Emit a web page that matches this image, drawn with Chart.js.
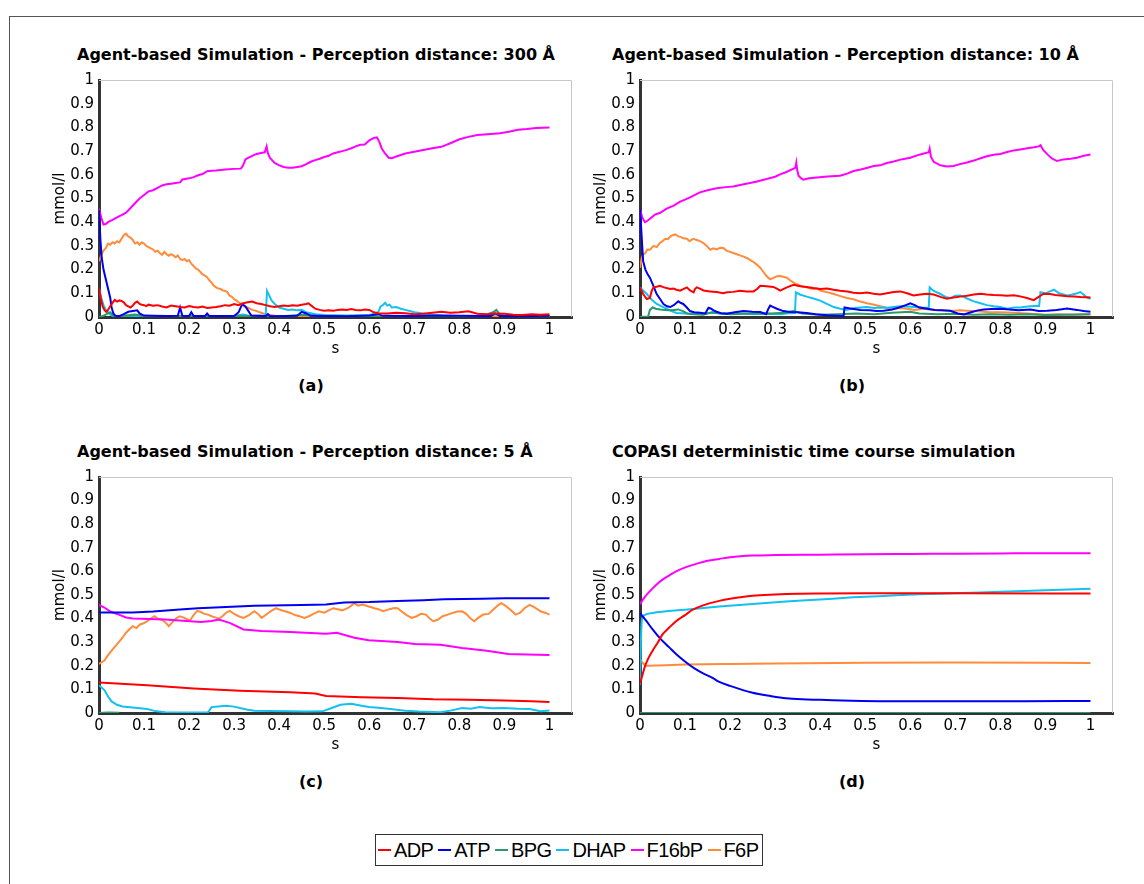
<!DOCTYPE html>
<html lang="en">
<head>
<meta charset="UTF-8" />
<title>Glycolysis: agent-based vs COPASI</title>
<script src="https://cdn.jsdelivr.net/npm/chart.js"></script>
<style>
  body { margin:0; width:1144px; height:884px; overflow:hidden; background:#fff; position:relative; font-family:"DejaVu Sans", sans-serif; color:#000; }
  .frame { position:absolute; left:9px; top:16px; width:1200px; height:900px; border:1px solid #555; }
  canvas { position:absolute; }
  .ttl { position:absolute; font:bold 16px/19px "DejaVu Sans", sans-serif; white-space:nowrap; }
  .sub { position:absolute; font:bold 16px/19px "DejaVu Sans", sans-serif; width:60px; text-align:center; }
  #legend { position:absolute; left:375px; top:834px; height:30px; border:1px solid #333; display:flex; align-items:center; padding:0 4px 0 2px; font:20px "Liberation Sans", Arial, sans-serif; letter-spacing:-0.6px; }
  .item { display:flex; align-items:center; margin-right:5px; }
  .item:last-child { margin-right:0; }
  .item i { display:inline-block; width:13px; height:2px; margin-right:3px; }
</style>
</head>
<body>
<div class="frame"></div>

<div class="ttl" style="left:77px; top:45px;">Agent-based Simulation - Perception distance: 300 Å</div>
<div class="ttl" style="left:612px; top:45px;">Agent-based Simulation - Perception distance: 10 Å</div>
<div class="ttl" style="left:77px; top:442px;">Agent-based Simulation - Perception distance: 5 Å</div>
<div class="ttl" style="left:612px; top:442px;">COPASI deterministic time course simulation</div>

<canvas id="chartA" width="540" height="292" style="left:40px; top:66px;"></canvas>
<canvas id="chartB" width="540" height="292" style="left:581px; top:66px;"></canvas>
<canvas id="chartC" width="540" height="291" style="left:40px; top:463px;"></canvas>
<canvas id="chartD" width="540" height="291" style="left:581px; top:463px;"></canvas>

<div class="sub" style="left:281px; top:376px;">(a)</div>
<div class="sub" style="left:822px; top:376px;">(b)</div>
<div class="sub" style="left:281px; top:772px;">(c)</div>
<div class="sub" style="left:822px; top:772px;">(d)</div>

<div id="legend"></div>

<script>
  // axis ticks
  const xTicks = [0, 0.1, 0.2, 0.3, 0.4, 0.5, 0.6, 0.7, 0.8, 0.9, 1];
  const yTicks = [0, 0.1, 0.2, 0.3, 0.4, 0.5, 0.6, 0.7, 0.8, 0.9, 1];

  const species = ['ADP', 'ATP', 'BPG', 'DHAP', 'F16bP', 'F6P'];
  const colors = ['#ff0000', '#0000ee', '#2a9a6c', '#14c0f0', '#ff00ff', '#ff8c3c'];

  // (a) perception distance 300 A  -- [s, mmol/l]
  const adpA = [[0,0.125],[0.004,0.08],[0.008,0.045],[0.012,0.03],[0.016,0.022],[0.02,0.03],[0.025,0.045],[0.03,0.06],[0.035,0.072],[0.04,0.065],[0.045,0.07],[0.05,0.068],[0.055,0.062],[0.06,0.05],[0.065,0.045],[0.07,0.04],[0.075,0.048],[0.08,0.06],[0.085,0.065],[0.09,0.055],[0.095,0.052],[0.1,0.05],[0.105,0.046],[0.11,0.052],[0.12,0.048],[0.13,0.05],[0.14,0.044],[0.15,0.04],[0.16,0.048],[0.17,0.045],[0.18,0.042],[0.19,0.04],[0.2,0.046],[0.21,0.042],[0.22,0.04],[0.23,0.044],[0.24,0.038],[0.25,0.04],[0.26,0.042],[0.27,0.045],[0.28,0.05],[0.29,0.048],[0.3,0.055],[0.31,0.05],[0.32,0.058],[0.33,0.062],[0.34,0.065],[0.35,0.058],[0.36,0.055],[0.37,0.05],[0.38,0.045],[0.39,0.042],[0.4,0.045],[0.41,0.048],[0.42,0.046],[0.43,0.05],[0.44,0.048],[0.45,0.052],[0.46,0.055],[0.465,0.058],[0.47,0.05],[0.48,0.035],[0.49,0.03],[0.5,0.026],[0.51,0.028],[0.52,0.026],[0.53,0.03],[0.54,0.032],[0.55,0.03],[0.56,0.034],[0.57,0.03],[0.58,0.028],[0.59,0.032],[0.6,0.03],[0.61,0.02],[0.62,0.016],[0.64,0.015],[0.66,0.018],[0.68,0.016],[0.7,0.012],[0.72,0.014],[0.74,0.018],[0.76,0.022],[0.78,0.018],[0.8,0.02],[0.82,0.024],[0.84,0.014],[0.86,0.012],[0.88,0.015],[0.9,0.014],[0.92,0.01],[0.94,0.008],[0.96,0.012],[0.98,0.01],[1,0.012]];
  const atpA = [[0,0.45],[0.003,0.33],[0.006,0.25],[0.01,0.2],[0.015,0.16],[0.02,0.12],[0.025,0.08],[0.028,0.04],[0.032,0.015],[0.036,0.005],[0.045,0.004],[0.055,0.012],[0.065,0.022],[0.075,0.025],[0.085,0.028],[0.09,0.015],[0.1,0.006],[0.12,0.005],[0.15,0.004],[0.175,0.005],[0.18,0.04],[0.185,0.005],[0.2,0.004],[0.205,0.02],[0.21,0.004],[0.235,0.004],[0.24,0.015],[0.245,0.004],[0.3,0.004],[0.31,0.02],[0.318,0.055],[0.325,0.045],[0.33,0.03],[0.338,0.006],[0.37,0.004],[0.375,0.012],[0.38,0.003],[0.44,0.005],[0.45,0.022],[0.46,0.015],[0.47,0.005],[0.55,0.003],[0.6,0.006],[0.62,0.012],[0.63,0.005],[0.7,0.004],[0.75,0.006],[0.8,0.005],[0.87,0.004],[0.88,0.015],[0.89,0.004],[0.95,0.004],[1,0.005]];
  const bpgA = [[0,0],[0.01,0.005],[0.02,0.015],[0.025,0.02],[0.03,0.01],[0.04,0.003],[0.08,0.01],[0.1,0.003],[0.3,0.004],[0.4,0.002],[0.45,0.01],[0.5,0.002],[0.85,0.003],[0.875,0.02],[0.882,0.03],[0.89,0.01],[0.9,0.002],[1,0.002]];
  const dhapA = [[0,0.12],[0.005,0.08],[0.01,0.05],[0.015,0.03],[0.02,0.02],[0.025,0.01],[0.03,0.005],[0.1,0.004],[0.2,0.004],[0.3,0.005],[0.32,0.01],[0.33,0.006],[0.37,0.005],[0.373,0.11],[0.378,0.09],[0.383,0.07],[0.39,0.055],[0.4,0.04],[0.41,0.035],[0.42,0.03],[0.43,0.032],[0.44,0.028],[0.45,0.03],[0.46,0.02],[0.48,0.012],[0.5,0.008],[0.55,0.006],[0.6,0.008],[0.62,0.02],[0.625,0.045],[0.63,0.05],[0.635,0.06],[0.64,0.048],[0.645,0.052],[0.65,0.04],[0.66,0.042],[0.67,0.035],[0.68,0.03],[0.69,0.025],[0.7,0.02],[0.72,0.015],[0.74,0.01],[0.76,0.006],[0.8,0.004],[0.85,0.005],[0.88,0.012],[0.9,0.005],[1,0.004]];
  const f16A = [[0,0.457],[0.005,0.42],[0.01,0.39],[0.015,0.392],[0.02,0.4],[0.03,0.41],[0.04,0.42],[0.05,0.43],[0.06,0.44],[0.07,0.46],[0.08,0.48],[0.09,0.5],[0.1,0.515],[0.11,0.53],[0.12,0.535],[0.13,0.545],[0.14,0.555],[0.15,0.56],[0.16,0.562],[0.17,0.565],[0.18,0.568],[0.185,0.58],[0.2,0.585],[0.21,0.59],[0.22,0.598],[0.23,0.603],[0.24,0.615],[0.25,0.617],[0.26,0.618],[0.28,0.622],[0.3,0.625],[0.315,0.626],[0.32,0.64],[0.325,0.665],[0.33,0.67],[0.34,0.68],[0.35,0.688],[0.36,0.692],[0.368,0.695],[0.372,0.72],[0.375,0.69],[0.38,0.67],[0.39,0.65],[0.4,0.64],[0.41,0.633],[0.42,0.63],[0.43,0.63],[0.44,0.633],[0.45,0.636],[0.46,0.645],[0.47,0.655],[0.48,0.662],[0.49,0.668],[0.5,0.675],[0.51,0.68],[0.52,0.69],[0.53,0.695],[0.54,0.7],[0.55,0.705],[0.56,0.712],[0.57,0.72],[0.58,0.727],[0.59,0.728],[0.6,0.745],[0.61,0.755],[0.617,0.758],[0.622,0.74],[0.628,0.71],[0.635,0.69],[0.643,0.672],[0.65,0.67],[0.66,0.677],[0.68,0.69],[0.7,0.697],[0.72,0.705],[0.74,0.712],[0.76,0.718],[0.78,0.733],[0.8,0.75],[0.82,0.76],[0.84,0.768],[0.87,0.772],[0.89,0.775],[0.91,0.782],[0.93,0.79],[0.95,0.793],[0.97,0.797],[1,0.8]];
  const f6pA = [[0,0.235],[0.005,0.26],[0.01,0.28],[0.015,0.29],[0.02,0.31],[0.025,0.305],[0.03,0.315],[0.035,0.31],[0.04,0.32],[0.045,0.315],[0.05,0.33],[0.055,0.345],[0.06,0.352],[0.065,0.34],[0.07,0.335],[0.075,0.325],[0.08,0.31],[0.085,0.315],[0.09,0.305],[0.095,0.315],[0.1,0.31],[0.105,0.3],[0.11,0.295],[0.115,0.29],[0.12,0.285],[0.125,0.275],[0.13,0.28],[0.135,0.27],[0.14,0.262],[0.145,0.275],[0.15,0.265],[0.155,0.258],[0.16,0.265],[0.165,0.26],[0.17,0.252],[0.175,0.26],[0.18,0.245],[0.185,0.24],[0.19,0.245],[0.195,0.235],[0.2,0.24],[0.205,0.225],[0.21,0.215],[0.215,0.205],[0.22,0.2],[0.225,0.19],[0.23,0.18],[0.235,0.175],[0.24,0.168],[0.245,0.155],[0.25,0.145],[0.255,0.132],[0.26,0.125],[0.265,0.12],[0.27,0.118],[0.275,0.112],[0.28,0.11],[0.285,0.105],[0.29,0.09],[0.295,0.085],[0.3,0.075],[0.305,0.07],[0.31,0.062],[0.315,0.055],[0.32,0.048],[0.325,0.042],[0.33,0.04],[0.335,0.035],[0.34,0.03],[0.345,0.028],[0.35,0.025],[0.36,0.018],[0.37,0.012],[0.38,0.008],[0.39,0.005],[0.4,0.003],[0.45,0.002],[0.5,0.002],[0.6,0.001],[0.7,0.001],[0.8,0.001],[0.9,0.001],[1,0.001]];

  // (b) perception distance 10 A
  const adpB = [[0,0.125],[0.007,0.097],[0.015,0.076],[0.022,0.08],[0.026,0.11],[0.03,0.125],[0.037,0.128],[0.044,0.132],[0.052,0.126],[0.059,0.122],[0.067,0.118],[0.074,0.12],[0.081,0.115],[0.089,0.111],[0.096,0.118],[0.104,0.125],[0.111,0.112],[0.119,0.104],[0.122,0.118],[0.126,0.125],[0.133,0.12],[0.141,0.112],[0.148,0.11],[0.156,0.108],[0.17,0.105],[0.185,0.1],[0.193,0.104],[0.207,0.106],[0.222,0.111],[0.237,0.108],[0.252,0.108],[0.26,0.118],[0.267,0.132],[0.281,0.13],[0.296,0.127],[0.304,0.12],[0.311,0.111],[0.326,0.125],[0.341,0.136],[0.356,0.13],[0.37,0.127],[0.385,0.122],[0.4,0.118],[0.415,0.12],[0.43,0.115],[0.444,0.111],[0.46,0.108],[0.474,0.102],[0.489,0.1],[0.504,0.103],[0.519,0.098],[0.533,0.095],[0.548,0.1],[0.563,0.105],[0.578,0.108],[0.593,0.1],[0.607,0.091],[0.622,0.095],[0.637,0.098],[0.652,0.095],[0.667,0.085],[0.681,0.077],[0.696,0.082],[0.711,0.086],[0.726,0.09],[0.741,0.095],[0.756,0.098],[0.77,0.095],[0.785,0.093],[0.8,0.092],[0.815,0.09],[0.83,0.092],[0.844,0.087],[0.859,0.08],[0.874,0.071],[0.885,0.085],[0.896,0.098],[0.91,0.097],[0.922,0.093],[0.933,0.091],[0.948,0.088],[0.963,0.086],[0.978,0.084],[1,0.082]];
  const atpB = [[0,0.457],[0.004,0.33],[0.007,0.235],[0.012,0.2],[0.017,0.18],[0.022,0.166],[0.03,0.13],[0.037,0.097],[0.045,0.075],[0.052,0.055],[0.06,0.045],[0.067,0.042],[0.075,0.05],[0.085,0.066],[0.09,0.06],[0.096,0.055],[0.104,0.04],[0.111,0.025],[0.12,0.02],[0.133,0.018],[0.145,0.015],[0.152,0.039],[0.158,0.035],[0.163,0.028],[0.17,0.022],[0.18,0.016],[0.193,0.014],[0.21,0.02],[0.23,0.025],[0.25,0.022],[0.267,0.021],[0.28,0.012],[0.285,0.035],[0.289,0.048],[0.296,0.042],[0.304,0.035],[0.318,0.025],[0.333,0.021],[0.35,0.02],[0.37,0.017],[0.39,0.012],[0.415,0.007],[0.44,0.005],[0.452,0.003],[0.454,0.04],[0.46,0.038],[0.47,0.035],[0.489,0.03],[0.51,0.028],[0.525,0.025],[0.541,0.026],[0.56,0.032],[0.575,0.04],[0.59,0.05],[0.6,0.058],[0.61,0.05],[0.62,0.04],[0.637,0.035],[0.655,0.03],[0.67,0.028],[0.689,0.026],[0.705,0.015],[0.719,0.011],[0.735,0.02],[0.75,0.028],[0.763,0.032],[0.78,0.034],[0.8,0.035],[0.82,0.032],[0.84,0.028],[0.867,0.032],[0.885,0.025],[0.904,0.026],[0.925,0.03],[0.948,0.036],[0.97,0.03],[0.985,0.025],[1,0.022]];
  const bpgB = [[0,0],[0.018,0.002],[0.022,0.03],[0.028,0.04],[0.035,0.035],[0.045,0.032],[0.055,0.03],[0.065,0.028],[0.075,0.03],[0.085,0.032],[0.095,0.025],[0.105,0.015],[0.12,0.012],[0.14,0.01],[0.16,0.02],[0.18,0.015],[0.2,0.012],[0.23,0.014],[0.26,0.016],[0.29,0.015],[0.32,0.018],[0.34,0.025],[0.36,0.015],[0.4,0.01],[0.44,0.012],[0.48,0.015],[0.52,0.012],[0.56,0.018],[0.6,0.022],[0.62,0.015],[0.66,0.012],[0.7,0.014],[0.74,0.01],[0.78,0.012],[0.82,0.01],[0.86,0.012],[0.9,0.008],[0.94,0.01],[1,0.012]];
  const dhapB = [[0,0.125],[0.008,0.11],[0.015,0.097],[0.025,0.075],[0.037,0.055],[0.048,0.045],[0.059,0.035],[0.07,0.025],[0.081,0.017],[0.1,0.015],[0.133,0.014],[0.16,0.018],[0.18,0.015],[0.207,0.017],[0.24,0.013],[0.28,0.014],[0.31,0.012],[0.33,0.016],[0.344,0.017],[0.346,0.104],[0.355,0.095],[0.37,0.086],[0.385,0.078],[0.4,0.069],[0.415,0.055],[0.43,0.042],[0.445,0.035],[0.459,0.03],[0.475,0.038],[0.49,0.04],[0.504,0.042],[0.52,0.038],[0.533,0.04],[0.548,0.039],[0.563,0.042],[0.578,0.045],[0.593,0.044],[0.61,0.042],[0.625,0.04],[0.641,0.039],[0.643,0.125],[0.652,0.11],[0.667,0.097],[0.678,0.085],[0.689,0.08],[0.7,0.09],[0.711,0.091],[0.726,0.078],[0.741,0.066],[0.756,0.058],[0.77,0.05],[0.785,0.045],[0.8,0.042],[0.815,0.035],[0.83,0.04],[0.844,0.04],[0.86,0.044],[0.875,0.046],[0.886,0.046],[0.889,0.105],[0.9,0.1],[0.91,0.108],[0.919,0.115],[0.93,0.1],[0.94,0.095],[0.948,0.091],[0.96,0.095],[0.97,0.1],[0.978,0.105],[0.99,0.085],[1,0.077]];
  const f16B = [[0,0.457],[0.005,0.42],[0.011,0.4],[0.016,0.405],[0.022,0.415],[0.033,0.432],[0.045,0.44],[0.059,0.457],[0.075,0.47],[0.089,0.487],[0.1,0.495],[0.111,0.505],[0.122,0.515],[0.133,0.526],[0.15,0.535],[0.17,0.543],[0.19,0.548],[0.207,0.551],[0.225,0.558],[0.244,0.565],[0.26,0.572],[0.281,0.582],[0.3,0.592],[0.311,0.602],[0.325,0.612],[0.341,0.626],[0.345,0.63],[0.347,0.651],[0.349,0.62],[0.352,0.596],[0.358,0.585],[0.363,0.579],[0.375,0.585],[0.393,0.589],[0.41,0.592],[0.425,0.594],[0.444,0.596],[0.46,0.605],[0.474,0.616],[0.49,0.622],[0.505,0.63],[0.519,0.637],[0.533,0.64],[0.548,0.65],[0.563,0.656],[0.58,0.665],[0.6,0.672],[0.62,0.685],[0.641,0.695],[0.643,0.71],[0.646,0.675],[0.652,0.655],[0.667,0.64],[0.681,0.635],[0.696,0.637],[0.71,0.645],[0.726,0.652],[0.741,0.66],[0.756,0.67],[0.77,0.678],[0.785,0.685],[0.8,0.688],[0.815,0.696],[0.83,0.703],[0.844,0.707],[0.86,0.712],[0.875,0.716],[0.885,0.72],[0.889,0.725],[0.895,0.705],[0.905,0.685],[0.915,0.668],[0.926,0.658],[0.94,0.665],[0.956,0.668],[0.97,0.672],[0.985,0.68],[1,0.686]];
  const f6pB = [[0,0.208],[0.004,0.25],[0.007,0.263],[0.012,0.27],[0.016,0.285],[0.022,0.284],[0.03,0.3],[0.037,0.295],[0.044,0.312],[0.05,0.32],[0.056,0.33],[0.062,0.328],[0.067,0.339],[0.073,0.345],[0.078,0.349],[0.085,0.34],[0.09,0.338],[0.096,0.332],[0.104,0.33],[0.11,0.32],[0.118,0.33],[0.126,0.325],[0.133,0.32],[0.141,0.312],[0.148,0.3],[0.156,0.284],[0.163,0.29],[0.17,0.285],[0.178,0.292],[0.185,0.291],[0.192,0.28],[0.2,0.275],[0.207,0.27],[0.215,0.265],[0.222,0.26],[0.23,0.255],[0.237,0.249],[0.245,0.24],[0.252,0.232],[0.26,0.22],[0.267,0.208],[0.274,0.19],[0.28,0.175],[0.285,0.165],[0.289,0.159],[0.296,0.165],[0.304,0.172],[0.311,0.173],[0.318,0.17],[0.326,0.166],[0.333,0.155],[0.341,0.145],[0.348,0.138],[0.356,0.132],[0.363,0.128],[0.37,0.125],[0.378,0.12],[0.385,0.118],[0.393,0.12],[0.4,0.112],[0.415,0.105],[0.43,0.097],[0.445,0.088],[0.459,0.08],[0.474,0.075],[0.489,0.065],[0.504,0.058],[0.52,0.052],[0.533,0.045],[0.548,0.039],[0.563,0.035],[0.578,0.038],[0.593,0.035],[0.61,0.03],[0.63,0.035],[0.652,0.03],[0.67,0.028],[0.69,0.025],[0.71,0.028],[0.726,0.026],[0.75,0.024],[0.775,0.02],[0.8,0.02],[0.83,0.018],[0.86,0.015],[0.9,0.01],[0.93,0.012],[0.96,0.01],[1,0.012]];

  // (c) perception distance 5 A
  const adpC = [[0,0.129],[0.107,0.118],[0.21,0.104],[0.313,0.094],[0.425,0.0875],[0.48,0.083],[0.504,0.072],[0.583,0.067],[0.663,0.064],[0.742,0.058],[0.821,0.056],[0.9,0.053],[0.96,0.05],[1,0.047]];
  const atpC = [[0,0.426],[0.075,0.426],[0.12,0.43],[0.187,0.44],[0.22,0.444],[0.345,0.454],[0.45,0.458],[0.504,0.46],[0.544,0.468],[0.6,0.47],[0.663,0.475],[0.72,0.478],[0.766,0.482],[0.85,0.484],[0.9,0.486],[1,0.486]];
  const bpgC = [[0,0],[0.02,0.002],[0.045,0.001]];
  const dhapC = [[0,0.118],[0.012,0.097],[0.02,0.07],[0.028,0.049],[0.04,0.035],[0.052,0.028],[0.08,0.022],[0.107,0.017],[0.125,0.008],[0.147,0.003],[0.2,0.002],[0.242,0.003],[0.25,0.025],[0.265,0.028],[0.282,0.031],[0.3,0.027],[0.313,0.021],[0.33,0.014],[0.345,0.01],[0.38,0.008],[0.425,0.007],[0.46,0.006],[0.496,0.007],[0.515,0.02],[0.536,0.035],[0.56,0.039],[0.58,0.032],[0.599,0.025],[0.62,0.022],[0.647,0.017],[0.68,0.01],[0.71,0.006],[0.758,0.003],[0.78,0.01],[0.806,0.021],[0.825,0.018],[0.845,0.025],[0.87,0.02],[0.9,0.021],[0.93,0.018],[0.956,0.017],[0.98,0.007],[1,0.011]];
  const f16C = [[0,0.458],[0.012,0.447],[0.025,0.43],[0.044,0.417],[0.06,0.405],[0.075,0.4],[0.147,0.396],[0.226,0.386],[0.25,0.39],[0.266,0.396],[0.29,0.382],[0.321,0.354],[0.361,0.347],[0.425,0.343],[0.504,0.336],[0.528,0.34],[0.567,0.319],[0.599,0.308],[0.663,0.301],[0.702,0.292],[0.758,0.289],[0.806,0.275],[0.861,0.264],[0.909,0.25],[0.95,0.248],[1,0.246]];
  const f6pC = [[0,0.208],[0.006,0.215],[0.012,0.222],[0.02,0.245],[0.028,0.264],[0.035,0.28],[0.044,0.3],[0.052,0.319],[0.06,0.34],[0.067,0.354],[0.075,0.368],[0.083,0.36],[0.091,0.375],[0.099,0.38],[0.107,0.389],[0.115,0.4],[0.123,0.41],[0.131,0.4],[0.139,0.396],[0.147,0.385],[0.155,0.368],[0.163,0.385],[0.171,0.4],[0.179,0.41],[0.187,0.405],[0.195,0.398],[0.202,0.392],[0.21,0.415],[0.218,0.433],[0.226,0.428],[0.234,0.42],[0.242,0.417],[0.25,0.41],[0.258,0.405],[0.266,0.4],[0.274,0.41],[0.282,0.425],[0.29,0.433],[0.3,0.42],[0.31,0.41],[0.321,0.403],[0.333,0.415],[0.345,0.431],[0.353,0.42],[0.361,0.403],[0.37,0.415],[0.38,0.43],[0.393,0.444],[0.405,0.435],[0.415,0.43],[0.425,0.424],[0.435,0.415],[0.445,0.41],[0.456,0.403],[0.466,0.41],[0.476,0.42],[0.488,0.431],[0.5,0.425],[0.51,0.435],[0.52,0.444],[0.53,0.44],[0.54,0.435],[0.552,0.444],[0.56,0.455],[0.567,0.465],[0.575,0.455],[0.585,0.46],[0.599,0.451],[0.61,0.445],[0.62,0.44],[0.631,0.431],[0.645,0.44],[0.655,0.445],[0.663,0.444],[0.672,0.43],[0.683,0.415],[0.694,0.403],[0.705,0.41],[0.715,0.42],[0.726,0.417],[0.734,0.4],[0.742,0.389],[0.752,0.395],[0.763,0.41],[0.774,0.417],[0.786,0.425],[0.796,0.43],[0.806,0.431],[0.815,0.42],[0.825,0.4],[0.833,0.389],[0.843,0.405],[0.853,0.417],[0.865,0.42],[0.876,0.44],[0.885,0.455],[0.893,0.465],[0.902,0.455],[0.912,0.44],[0.925,0.417],[0.935,0.425],[0.945,0.445],[0.956,0.458],[0.965,0.45],[0.973,0.44],[0.98,0.431],[0.99,0.425],[1,0.417]];

  // (d) COPASI deterministic
  const adpD = [[0,0.125],[0.013,0.208],[0.028,0.264],[0.04,0.3],[0.05,0.333],[0.065,0.362],[0.08,0.389],[0.1,0.415],[0.117,0.4375],[0.14,0.456],[0.176,0.475],[0.2,0.484],[0.25,0.497],[0.3,0.502],[0.35,0.505],[0.4,0.506],[0.5,0.507],[0.7,0.507],[1,0.506]];
  const atpD = [[0,0.424],[0.014,0.39],[0.028,0.354],[0.045,0.315],[0.065,0.278],[0.08,0.25],[0.102,0.215],[0.12,0.19],[0.139,0.169],[0.16,0.15],[0.176,0.132],[0.2,0.115],[0.25,0.086],[0.29,0.072],[0.324,0.0625],[0.36,0.058],[0.4,0.056],[0.47,0.052],[0.547,0.05],[0.7,0.05],[0.85,0.05],[1,0.051]];
  const bpgD = [[0,0],[1,0]];
  const dhapD = [[0,0.12],[0.002,0.3],[0.004,0.39],[0.008,0.412],[0.028,0.424],[0.1,0.438],[0.176,0.451],[0.25,0.462],[0.324,0.472],[0.4,0.481],[0.473,0.49],[0.55,0.497],[0.62,0.503],[0.695,0.507],[0.8,0.514],[0.9,0.52],[1,0.526]];
  const f16D = [[0,0.461],[0.01,0.49],[0.02,0.512],[0.028,0.528],[0.04,0.55],[0.05,0.565],[0.065,0.583],[0.08,0.6],[0.102,0.618],[0.13,0.635],[0.15,0.645],[0.176,0.653],[0.2,0.66],[0.25,0.667],[0.3,0.669],[0.4,0.671],[0.5,0.673],[0.6,0.674],[0.7,0.675],[0.8,0.676],[0.9,0.677],[1,0.677]];
  const f6pD = [[0,0.229],[0.005,0.215],[0.01,0.205],[0.015,0.2],[0.03,0.201],[0.1,0.205],[0.2,0.208],[0.3,0.21],[0.5,0.213],[0.7,0.214],[1,0.212]];

  // light top / right frame of the plot box
  const boxLines = {
    id: 'boxLines',
    beforeDatasetsDraw(chart) {
      const { ctx, chartArea: a } = chart;
      ctx.save();
      ctx.strokeStyle = '#c8c8c8';
      ctx.lineWidth = 1;
      ctx.beginPath();
      ctx.moveTo(a.left, a.top + 0.5);
      ctx.lineTo(a.right - 0.5, a.top + 0.5);
      ctx.lineTo(a.right - 0.5, a.bottom);
      ctx.stroke();
      ctx.restore();
    }
  };

  Chart.defaults.font.family = '"DejaVu Sans", sans-serif';
  Chart.defaults.font.size = 15;
  Chart.defaults.color = '#000';

  const fmt = v => String(+Number(v).toFixed(1));

  const renderPanel = (id, series, smooth) => {
    const ctx = document.getElementById(id).getContext('2d');
    new Chart(ctx, {
      type: 'line',
      data: {
        datasets: series.map((d, i) => ({
          label: species[i],
          data: d,
          borderColor: colors[i],
          backgroundColor: colors[i],
          borderWidth: 2,
          pointRadius: 0,
          tension: smooth ? 0.4 : 0,
          cubicInterpolationMode: smooth ? 'monotone' : 'default',
          fill: false
        }))
      },
      options: {
        responsive: false,
        animation: false,
        layout: { padding: { top: 10, right: 8, left: 0, bottom: 0 } },
        plugins: { legend: { display: false }, tooltip: { enabled: false } },
        scales: {
          x: {
            type: 'linear', min: 0, max: 1.05,
            afterBuildTicks: s => { s.ticks = xTicks.map(v => ({ value: v })); },
            afterFit: s => { s.height = 41; },
            grid: { display: false, drawTicks: false },
            border: { color: '#333', width: 3 },
            ticks: { padding: 4, autoSkip: false, maxRotation: 0, callback: fmt },
            title: { display: true, text: 's', padding: 0 }
          },
          y: {
            type: 'linear', min: 0, max: 1,
            afterBuildTicks: s => { s.ticks = yTicks.map(v => ({ value: v })); },
            afterFit: s => { s.width = 59; },
            grid: { display: false, drawTicks: false },
            border: { color: '#333', width: 3 },
            ticks: { padding: 5, autoSkip: false, callback: fmt },
            title: { display: true, text: 'mmol/l', padding: { top: 11, bottom: 0 } }
          }
        }
      },
      plugins: [boxLines]
    });
  };

  renderPanel('chartA', [adpA, atpA, bpgA, dhapA, f16A, f6pA], false);
  renderPanel('chartB', [adpB, atpB, bpgB, dhapB, f16B, f6pB], false);
  renderPanel('chartC', [adpC, atpC, bpgC, dhapC, f16C, f6pC], false);
  renderPanel('chartD', [adpD, atpD, bpgD, dhapD, f16D, f6pD], true);

  // shared legend
  const legend = document.getElementById('legend');
  species.forEach((name, i) => {
    legend.innerHTML += `<span class="item"><i style="background:${colors[i]}"></i>${name}</span>`;
  });
</script>
</body>
</html>
